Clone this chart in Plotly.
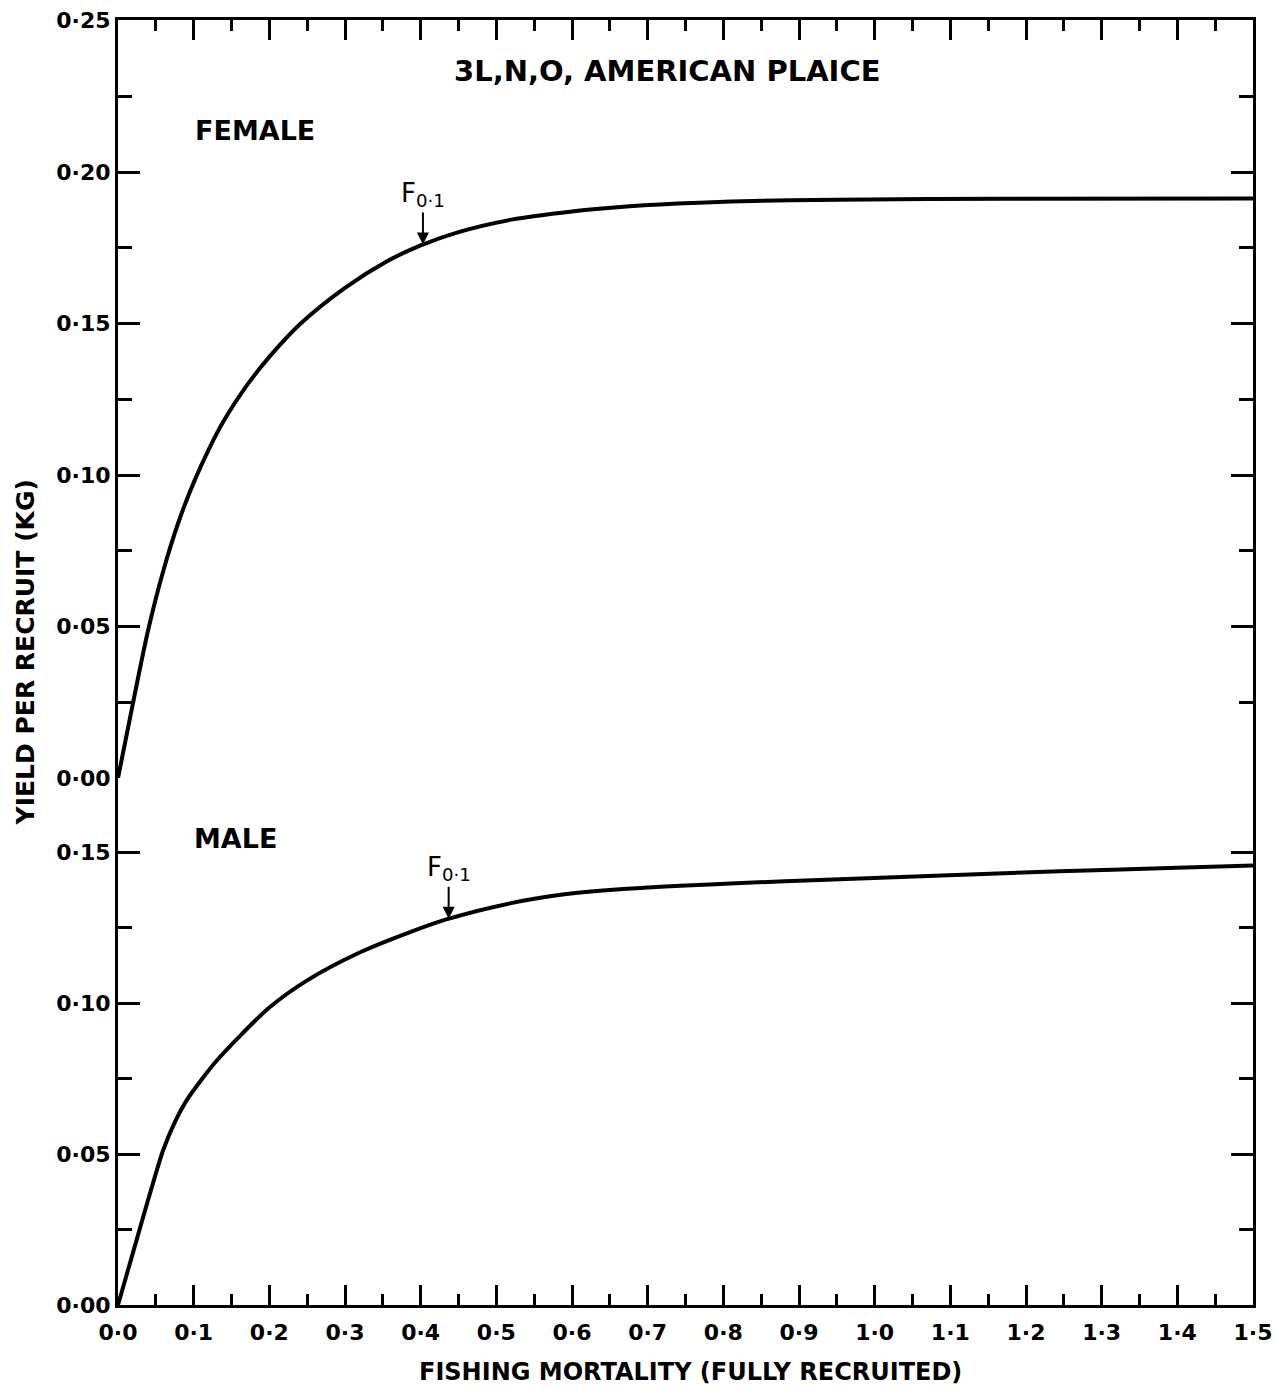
import numpy as np
import plotly.graph_objects as go

# ---------------- data ----------------
female_F = [0.0, 0.02, 0.04, 0.06, 0.08, 0.10, 0.12, 0.14, 0.17, 0.20, 0.24, 0.30,
            0.355, 0.40, 0.45, 0.52, 0.60, 0.66, 0.74, 0.81, 0.95, 1.17, 1.50]
female_Y = [0.0, 0.025, 0.049, 0.0685, 0.0845, 0.0975, 0.1085, 0.118, 0.1295, 0.139,
            0.1497, 0.1618, 0.1705, 0.1758, 0.1802, 0.1843, 0.1870, 0.1884, 0.1896,
            0.1903, 0.1909, 0.1912, 0.1913]

male_F = [0.0, 0.02, 0.04, 0.06, 0.075, 0.09, 0.11, 0.13, 0.16, 0.20, 0.25, 0.32,
          0.386, 0.434, 0.518, 0.59, 0.663, 0.809, 0.954, 1.098, 1.244, 1.389, 1.50]
male_Y = [0.0, 0.0175, 0.035, 0.0515, 0.0605, 0.0675, 0.0745, 0.0808, 0.0888, 0.0985,
          0.1075, 0.1168, 0.1235, 0.1277, 0.1330, 0.1360, 0.1377, 0.1396, 0.1410,
          0.1423, 0.1436, 0.1447, 0.1455]

f01_female = 0.403
f01_male = 0.437

x_tickvals = [round(0.1 * i, 1) for i in range(16)]
x_ticktext = ["0·0", "0·1", "0·2", "0·3", "0·4", "0·5", "0·6", "0·7", "0·8", "0·9",
              "1·0", "1·1", "1·2", "1·3", "1·4", "1·5"]
top_y_tickvals = [0.0, 0.05, 0.10, 0.15, 0.20, 0.25]
top_y_ticktext = ["0·00", "0·05", "0·10", "0·15", "0·20", "0·25"]
bot_y_tickvals = [0.0, 0.05, 0.10, 0.15]
bot_y_ticktext = ["0·00", "0·05", "0·10", "0·15"]

title_text = "3L,N,O, AMERICAN PLAICE"
x_title = "FISHING MORTALITY (FULLY RECRUITED)"
y_title = "YIELD PER RECRUIT (KG)"

# ---------------- figure ----------------
FONT = "DejaVu Sans"
split = 0.4101


def bfont(size):
    return dict(family=FONT, size=size, color="black", weight="bold")


fig = go.Figure()
fig.add_trace(go.Scatter(x=female_F, y=female_Y, xaxis="x2", yaxis="y2", mode="lines",
                         line=dict(color="black", width=4, shape="spline", smoothing=0.8),
                         showlegend=False, hoverinfo="skip"))
fig.add_trace(go.Scatter(x=male_F, y=male_Y, xaxis="x", yaxis="y", mode="lines",
                         line=dict(color="black", width=4, shape="spline", smoothing=0.8),
                         showlegend=False, hoverinfo="skip"))

common_x = dict(range=[0, 1.5], showgrid=False, zeroline=False, showline=True,
                linecolor="black", linewidth=3, ticks="inside", ticklen=20,
                tickwidth=2.5, tickcolor="black", automargin=False,
                minor=dict(ticks="inside", ticklen=11, tickwidth=2.5, tickcolor="black",
                           tickmode="linear", tick0=0, dtick=0.05))
common_y = dict(showgrid=False, zeroline=False, showline=True, linecolor="black",
                linewidth=3, ticks="inside", ticklen=22, tickwidth=2.5,
                tickcolor="black", mirror="ticks", tickfont=bfont(22), automargin=False,
                minor=dict(ticks="inside", ticklen=14, tickwidth=2.5, tickcolor="black",
                           tickmode="linear", tick0=0, dtick=0.025))

fig.update_layout(
    width=1270, height=1378,
    margin=dict(l=110, r=25, t=12, b=81),
    paper_bgcolor="white", plot_bgcolor="white",
    font=dict(family=FONT, color="black"),
    xaxis=dict(**common_x, anchor="y", domain=[0, 1], tickmode="array",
               tickvals=x_tickvals, ticktext=x_ticktext, tickfont=bfont(22),
               ticklabelstandoff=6),
    xaxis2=dict(**common_x, anchor="y2", domain=[0, 1], side="top", matches="x",
                tickmode="array", tickvals=x_tickvals, showticklabels=False),
    xaxis3=dict(range=[0, 1.5], overlaying="x", anchor="y", side="top",
                showline=True, linecolor="black", linewidth=3, ticks="",
                showticklabels=False, showgrid=False, zeroline=False, automargin=False),
    yaxis=dict(**common_y, domain=[0, split], range=[0, 0.1745], anchor="x",
               tickmode="array", tickvals=bot_y_tickvals, ticktext=bot_y_ticktext),
    yaxis2=dict(**common_y, domain=[split, 1], range=[0, 0.2502], anchor="x2",
                tickmode="array", tickvals=top_y_tickvals, ticktext=top_y_ticktext),
)

annots = [
    dict(text=title_text, x=0.7255, y=0.2335, xref="x2", yref="y2", showarrow=False,
         font=bfont(29), xanchor="center", yanchor="middle"),
    dict(text="FEMALE", x=0.099, y=0.2137, xref="x2", yref="y2", showarrow=False,
         font=bfont(27), xanchor="left", yanchor="middle"),
    dict(text="MALE", x=0.098, y=0.1546, xref="x", yref="y", showarrow=False,
         font=bfont(27), xanchor="left", yanchor="middle"),
    dict(text="F<sub>0·1</sub>", x=f01_female, y=float(np.interp(f01_female, female_F, female_Y)),
         xref="x2", yref="y2", showarrow=True, ax=0, ay=-32, xanchor="center",
         yanchor="bottom", arrowhead=2, arrowsize=1.2, arrowwidth=2, arrowcolor="black",
         font=dict(family=FONT, size=26, color="black")),
    dict(text="F<sub>0·1</sub>", x=f01_male, y=float(np.interp(f01_male, male_F, male_Y)),
         xref="x", yref="y", showarrow=True, ax=0, ay=-32, xanchor="center",
         yanchor="bottom", arrowhead=2, arrowsize=1.2, arrowwidth=2, arrowcolor="black",
         font=dict(family=FONT, size=26, color="black")),
    dict(text=x_title, x=0.504, y=-0.052, xref="paper", yref="paper", showarrow=False,
         font=bfont(24), xanchor="center", yanchor="middle"),
    dict(text=y_title, x=-0.0818, y=0.508, xref="paper", yref="paper", showarrow=False,
         textangle=-90, font=bfont(25), xanchor="center", yanchor="middle"),
]
fig.update_layout(annotations=annots)

fig.write_html("out.html")
